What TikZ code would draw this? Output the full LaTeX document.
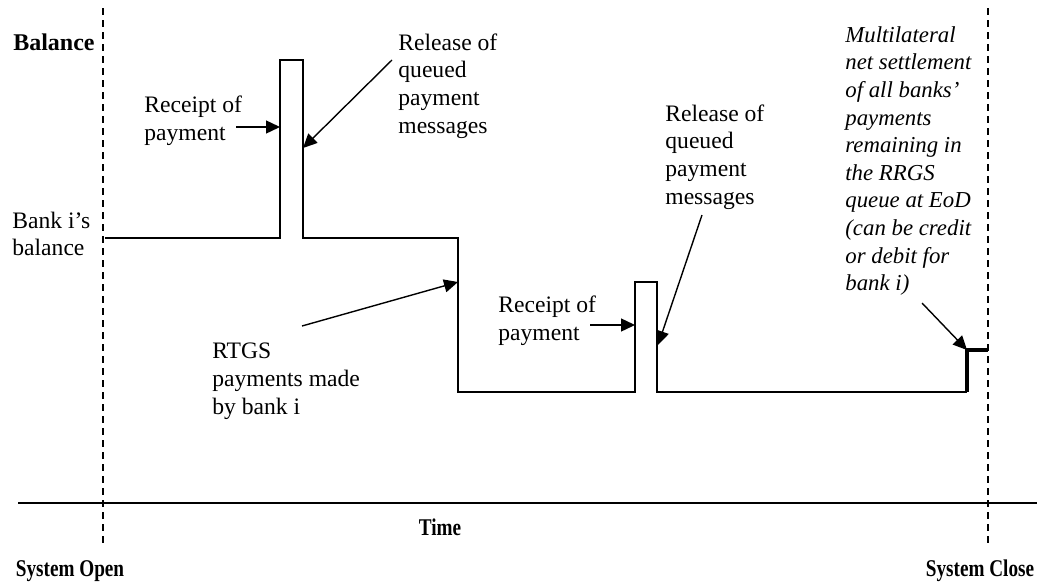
\documentclass[tikz,border=0pt]{standalone}
\usepackage{fontspec}
\setmainfont{Liberation Serif}
\usetikzlibrary{arrows.meta}
\begin{document}
\begin{tikzpicture}[
	  x=0.5pt, y=-0.5pt,
	  lbl/.style={font=\fontsize{11.8}{13.9}\selectfont, align=left, anchor=west, inner sep=0pt},
	  head/.style={font=\fontsize{12}{13.9}\selectfont\bfseries, inner sep=0pt},
	  note/.style={lbl, font=\fontsize{11.4}{13.8}\selectfont\itshape},
	  marker/.style={line width=0.75pt, dash pattern=on 3.5pt off 2.5pt},
	  balance/.style={line width=1pt},
	  pointer/.style={-{Triangle[length=7pt, width=6.5pt]}, line width=0.7pt}]
	  \useasboundingbox (0,0) rectangle (1040,584);
	  % open / close markers and time axis
	  \draw[marker] (103,8) -- (103,543);
	  \draw[marker] (988,8) -- (988,543);
	  \draw[line width=1.2pt] (18,503) -- (1037,503);
	  \node[head] (time) at (440,527) {\scalebox{0.8}[1]{Time}};
	  \node[head] (open) at (70,571) {\scalebox{0.8}[1]{System Open}};
	  \node[head] (close) at (980,571) {\scalebox{0.8}[1]{System Close}};
	  \node[head, anchor=east] (bal) at (95,42) {Balance};
	  \node[lbl] (banki) at (12,234) {Bank i’s\\balance};
	  % balance path of bank i
	  \draw[balance] (105,238) -- (280,238) -- (280,60) -- (303,60) -- (303,238) -- (458,238)
	    -- (458,392) -- (635,392) -- (635,282) -- (657,282) -- (657,392) -- (967,392);
	  \draw[line width=1.6pt] (967,392) -- (967,350) -- (988,350);
	  % labels
	  \node[lbl] (rcpt1) at (144,121) {Receipt of\\payment};
	  \node[lbl] (rel1) at (398,86) {Release of\\queued\\payment\\messages};
	  \node[lbl] (rtgs) at (212,381) {RTGS\\payments made\\by bank i};
	  \node[lbl] (rcpt2) at (498,321) {Receipt of\\payment};
	  \node[lbl] (rel2) at (665,157) {Release of\\queued\\payment\\messages};
	  \node[note] (mns) at (845,161) {Multilateral\\net settlement\\of all banks’\\payments\\remaining in\\the RRGS\\queue at EoD\\(can be credit\\or debit for\\bank i)};
	  % arrow ends
	  \coordinate (rc1a) at (236,127);  \coordinate (rc1b) at (280,127);
	  \coordinate (rl1a) at (392,60);   \coordinate (rl1b) at (303,148);
	  \coordinate (rtga) at (302,326);  \coordinate (rtgb) at (458,282);
	  \coordinate (rc2a) at (590,325);  \coordinate (rc2b) at (635,325);
	  \coordinate (rl2a) at (702,215);  \coordinate (rl2b) at (658,345);
	  \coordinate (eoda) at (922,303);  \coordinate (eodb) at (967,350);
	  \draw[pointer] (rc1a) -- (rc1b);
	  \draw[pointer] (rl1a) -- (rl1b);
	  \draw[pointer] (rtga) -- (rtgb);
	  \draw[pointer] (rc2a) -- (rc2b);
	  \draw[pointer] (rl2a) -- (rl2b);
	  \draw[pointer] (eoda) -- (eodb);
	\end{tikzpicture}
\end{document}
